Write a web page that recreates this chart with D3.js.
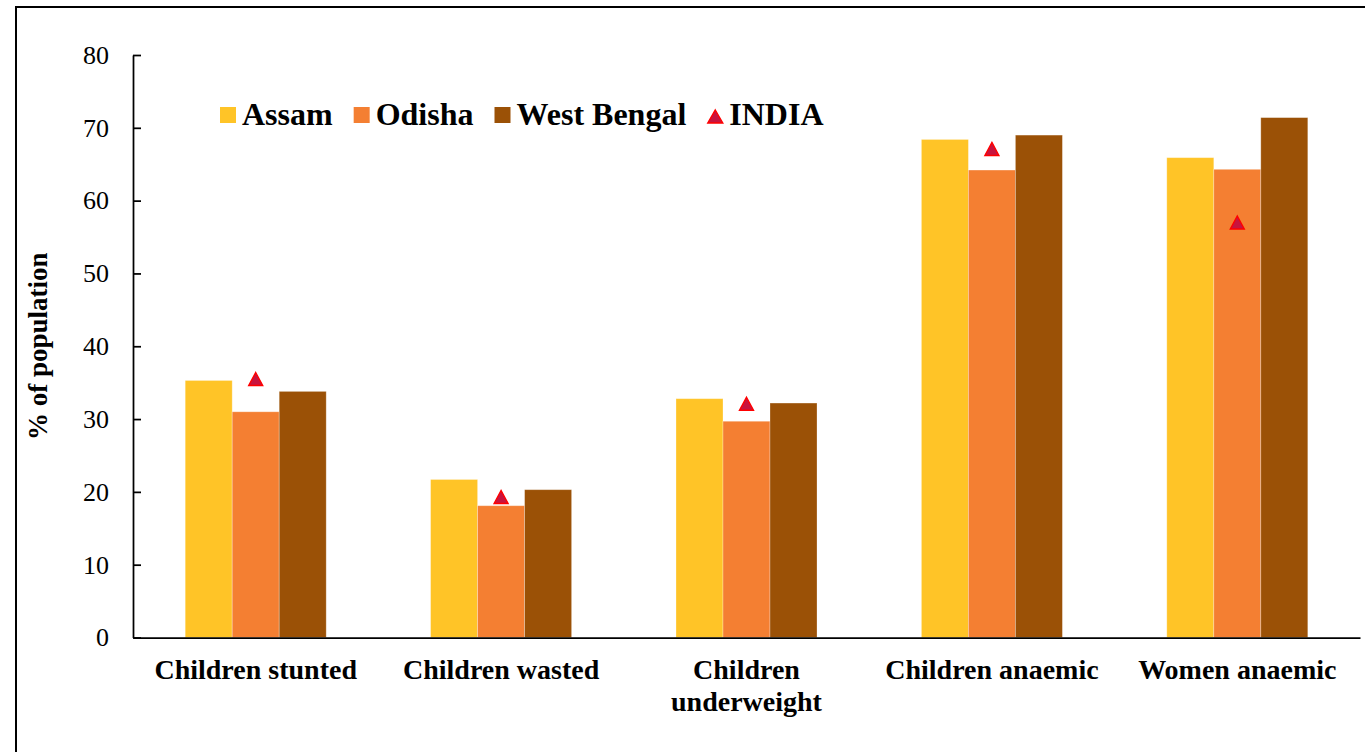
<!DOCTYPE html>
<html>
<head>
<meta charset="utf-8">
<script src="https://cdn.jsdelivr.net/npm/d3@7"></script>
<style>
  html, body { margin: 0; padding: 0; background: #fff; }
  svg { display: block; }
  text { font-family: "Liberation Serif", "DejaVu Serif", serif; fill: #000; }
</style>
</head>
<body>
<svg id="chart" width="1365" height="752"></svg>
<script>
// Nutrition indicators (% of population) by state, with the national figure
const categories = ["Children stunted", "Children wasted", "Children underweight", "Children anaemic", "Women anaemic"];
const seriesNames = ["Assam", "Odisha", "West Bengal"];
const assam      = [35.3, 21.7, 32.8, 68.4, 65.9];
const odisha     = [31.0, 18.1, 29.7, 64.2, 64.3];
const westBengal = [33.8, 20.3, 32.2, 69.0, 71.4];
const indiaName  = "INDIA";
const india      = [35.5, 19.3, 32.1, 67.1, 57.0];
const yTicks     = [0, 10, 20, 30, 40, 50, 60, 70, 80];
const yTitle     = "% of population";

const serifFont = "'Liberation Serif', 'DejaVu Serif', serif";
const seriesColors = ["#FFC427", "#F47F32", "#9B5106"];
const markerFill = "#C8143E";
const markerStroke = "#FF0000";

const seriesValues = [assam, odisha, westBengal];
const rows = categories.map((c, i) => ({
  category: c,
  values: seriesNames.map((s, j) => ({ series: s, value: seriesValues[j][i] })),
  india: india[i]
}));

const svg = d3.select("#chart");
const plot = { left: 133, right: 1360, top: 55, bottom: 637.5 };

// outer frame
svg.append("rect")
  .attr("x", 16).attr("y", 7)
  .attr("width", 1400).attr("height", 800)
  .attr("fill", "none").attr("stroke", "#000").attr("stroke-width", 2);

const pad = 0.4254;
const x0 = d3.scaleBand()
  .domain(categories)
  .range([plot.left, plot.right])
  .paddingInner(pad)
  .paddingOuter(pad / 2);

const x1 = d3.scaleBand()
  .domain(seriesNames)
  .range([0, x0.bandwidth()])
  .padding(0);

const y = d3.scaleLinear().domain([0, 80]).range([plot.bottom, plot.top]);
const color = d3.scaleOrdinal().domain(seriesNames).range(seriesColors);

// bars
const groups = svg.append("g").selectAll("g")
  .data(rows)
  .join("g")
  .attr("transform", d => `translate(${x0(d.category)},0)`);

groups.selectAll("rect")
  .data(d => d.values)
  .join("rect")
  .attr("x", d => x1(d.series))
  .attr("y", d => y(d.value))
  .attr("width", x1.bandwidth())
  .attr("height", d => y(0) - y(d.value))
  .attr("fill", d => color(d.series))
  .attr("stroke", "#fff")
  .attr("stroke-opacity", 0.35)
  .attr("stroke-width", 0.8);

// triangle marker centred on its bounding box
function trianglePath(w, h) {
  return `M0,${-h / 2}L${w / 2},${h / 2}L${-w / 2},${h / 2}Z`;
}

// national values drawn over the middle bar of each group
svg.append("g").selectAll("path")
  .data(rows)
  .join("path")
  .attr("d", trianglePath(14, 13))
  .attr("transform", d => `translate(${x0(d.category) + x1(seriesNames[1]) + x1.bandwidth() / 2},${y(d.india)})`)
  .attr("fill", markerFill)
  .attr("stroke", markerStroke)
  .attr("stroke-width", 1.4)
  .attr("stroke-linejoin", "miter");

// y axis
const yAxis = d3.axisLeft(y)
  .tickValues(yTicks)
  .tickSizeInner(-8)
  .tickSizeOuter(0)
  .tickPadding(24);

const yg = svg.append("g")
  .attr("transform", `translate(${plot.left},0)`)
  .call(yAxis)
  .attr("font-family", serifFont);
yg.select(".domain").attr("stroke", "#000").attr("stroke-width", 1.75);
yg.selectAll(".tick line").attr("stroke", "#000").attr("stroke-width", 1.75);
yg.selectAll(".tick text")
  .attr("font-size", 26)
  .attr("fill", "#000");

// x axis with wrapped bold labels
const xAxis = d3.axisBottom(x0).tickSize(0).tickPadding(22);
const xg = svg.append("g")
  .attr("transform", `translate(0,${plot.bottom})`)
  .call(xAxis)
  .attr("font-family", serifFont);
xg.select(".domain").attr("stroke", "#000").attr("stroke-width", 1.75);
xg.selectAll(".tick text")
  .attr("font-size", 28)
  .attr("font-weight", "bold")
  .attr("fill", "#000")
  .each(function () { wrap(d3.select(this), x0.step() - 4, 32); });

function wrap(textSel, width, lineHeight) {
  const words = textSel.text().split(/\s+/);
  const dy = textSel.attr("dy");
  textSel.text(null);
  let line = [];
  let tspan = textSel.append("tspan").attr("x", 0).attr("dy", dy);
  for (const w of words) {
    line.push(w);
    tspan.text(line.join(" "));
    if (tspan.node().getComputedTextLength() > width && line.length > 1) {
      line.pop();
      tspan.text(line.join(" "));
      line = [w];
      tspan = textSel.append("tspan").attr("x", 0).attr("dy", lineHeight + "px").text(w);
    }
  }
}

// y axis title
svg.append("text")
  .attr("transform", `translate(46.5,${(plot.top + plot.bottom) / 2}) rotate(-90)`)
  .attr("text-anchor", "middle")
  .attr("font-size", 27)
  .attr("font-weight", "bold")
  .text(yTitle);

// legend
const legendItems = seriesNames.map((s, i) => ({ name: s, type: "square", color: seriesColors[i] }))
  .concat([{ name: indiaName, type: "triangle" }]);

const legend = svg.append("g").attr("transform", "translate(220,125)");
let lx = 0;
legendItems.forEach(item => {
  const g = legend.append("g").attr("transform", `translate(${lx},0)`);
  if (item.type === "square") {
    g.append("rect")
      .attr("x", 0).attr("y", -18)
      .attr("width", 16).attr("height", 16)
      .attr("fill", item.color);
  } else {
    g.append("path")
      .attr("d", trianglePath(15, 13))
      .attr("transform", "translate(8,-8.5)")
      .attr("fill", markerFill)
      .attr("stroke", markerStroke)
      .attr("stroke-width", 1.4);
  }
  const t = g.append("text")
    .attr("x", 22).attr("y", 0)
    .attr("font-size", 32)
    .attr("font-weight", "bold")
    .text(item.name);
  lx += 22 + t.node().getComputedTextLength() + 21;
});
</script>
</body>
</html>
